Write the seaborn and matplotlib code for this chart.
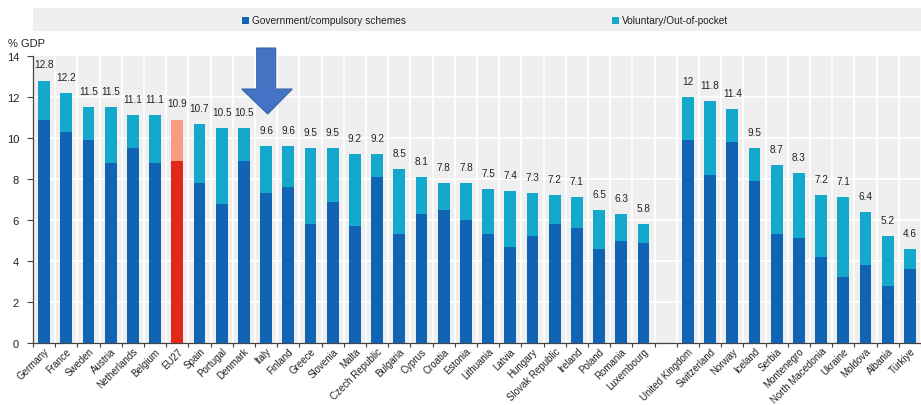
import matplotlib
matplotlib.use("Agg")
import matplotlib.pyplot as plt
from matplotlib.patches import Rectangle, Polygon
import seaborn as sns
import pandas as pd
import numpy as np

countries = ["Germany", "France", "Sweden", "Austria", "Netherlands", "Belgium", "EU27",
             "Spain", "Portugal", "Denmark", "Italy", "Finland", "Greece", "Slovenia",
             "Malta", "Czech Republic", "Bulgaria", "Cyprus", "Croatia", "Estonia",
             "Lithuania", "Latvia", "Hungary", "Slovak Republic", "Ireland", "Poland",
             "Romania", "Luxembourg",
             "United Kingdom", "Switzerland", "Norway", "Iceland", "Serbia", "Montenegro",
             "North Macedonia", "Ukraine", "Moldova", "Albania", "Türkiye"]
total = [12.8, 12.2, 11.5, 11.5, 11.1, 11.1, 10.9, 10.7, 10.5, 10.5, 9.6, 9.6, 9.5, 9.5,
         9.2, 9.2, 8.5, 8.1, 7.8, 7.8, 7.5, 7.4, 7.3, 7.2, 7.1, 6.5, 6.3, 5.8,
         12.0, 11.8, 11.4, 9.5, 8.7, 8.3, 7.2, 7.1, 6.4, 5.2, 4.6]
total_labels = ["12.8", "12.2", "11.5", "11.5", "11.1", "11.1", "10.9", "10.7", "10.5", "10.5",
                "9.6", "9.6", "9.5", "9.5", "9.2", "9.2", "8.5", "8.1", "7.8", "7.8", "7.5",
                "7.4", "7.3", "7.2", "7.1", "6.5", "6.3", "5.8",
                "12", "11.8", "11.4", "9.5", "8.7", "8.3", "7.2", "7.1", "6.4", "5.2", "4.6"]
government = [10.9, 10.3, 9.9, 8.8, 9.5, 8.8, 8.9, 7.8, 6.8, 8.9, 7.3, 7.6, 5.8, 6.9,
              5.7, 8.1, 5.3, 6.3, 6.5, 6.0, 5.3, 4.7, 5.2, 5.8, 5.6, 4.6, 5.0, 4.9,
              9.9, 8.2, 9.8, 7.9, 5.3, 5.1, 4.2, 3.2, 3.8, 2.8, 3.6]
series_names = ["Government/compulsory schemes", "Voluntary/Out-of-pocket"]
y_ticks = [0, 2, 4, 6, 8, 10, 12, 14]

GAP = " "
order = countries[:28] + [GAP] + countries[28:]

df = pd.DataFrame({"country": countries, "total": total, "gov": government})

DARK = "#1064b3"
LIGHT = "#13a8cc"
RED = "#e0291a"
SALMON = "#f89b80"
pal_total = {c: (SALMON if c == "EU27" else LIGHT) for c in countries}
pal_gov = {c: (RED if c == "EU27" else DARK) for c in countries}

plt.rcParams["font.family"] = ["Liberation Sans", "DejaVu Sans"]
TXT = "#222222"

W, H = 921, 406
fig = plt.figure(figsize=(W / 100, H / 100), dpi=100)
ax = fig.add_axes([33 / W, 1 - 344 / H, (W - 33) / W, (344 - 57) / H])
ax.set_facecolor("#efefef")

sns.barplot(data=df, x="country", y="total", hue="country", order=order,
            palette=pal_total, width=0.54, legend=False, ax=ax, saturation=1, zorder=3)
sns.barplot(data=df, x="country", y="gov", hue="country", order=order,
            palette=pal_gov, width=0.54, legend=False, ax=ax, saturation=1, zorder=4)

ax.set_xlim(-0.49, 39.1)
ax.set_ylim(0, 14)
ax.set_yticks(y_ticks)
ax.set_yticklabels([str(t) for t in y_ticks], fontsize=8, color=TXT)
ax.set_xlabel("")
ax.set_ylabel("")

ax.set_xticks(range(len(order)))
ax.set_xticklabels(order, rotation=45, ha="right", rotation_mode="anchor",
                   fontsize=7.0, color=TXT)
ax.tick_params(axis="x", which="major", length=0, pad=2)
ax.set_xticks(np.arange(-0.5, len(order), 1.0), minor=True)
ax.tick_params(axis="x", which="minor", length=3, width=0.8, color="#444444", direction="out")
ax.tick_params(axis="y", length=4, width=0.8, color="#444444", pad=6)

ax.grid(False)
for t in y_ticks[1:-1]:
    ax.axhline(t, color="white", lw=1.3, zorder=1)
for xv in np.arange(0.5, len(order), 1.0):
    ax.axvline(xv, color="white", lw=1.3, zorder=1)

for s in ["top", "right"]:
    ax.spines[s].set_visible(False)
for s in ["left", "bottom"]:
    ax.spines[s].set_color("#444444")
    ax.spines[s].set_linewidth(0.9)

for c, v, lab in zip(countries, total, total_labels):
    i = order.index(c)
    ax.annotate(lab, (i, v), xytext=(0, 8), textcoords="offset points",
                ha="center", va="bottom", fontsize=7.2, color=TXT)

fig.text(8 / W, 1 - 44 / H, "% GDP", fontsize=8, color=TXT, va="center", ha="left")

# legend band
fig.patches.append(Rectangle((33 / W, 1 - 32 / H), (W - 33) / W, 23 / H,
                             transform=fig.transFigure, facecolor="#efefef",
                             edgecolor="none", zorder=0))
for (xm, col, name) in [(242, DARK, series_names[0]), (612, LIGHT, series_names[1])]:
    fig.patches.append(Rectangle((xm / W, 1 - 25 / H), 7 / W, 7 / H,
                                 transform=fig.transFigure, facecolor=col,
                                 edgecolor="none", zorder=2))
    fig.text((xm + 9.5) / W, 1 - 21 / H, name, fontsize=7.3, color=TXT,
             va="center", ha="left")

# blue arrow
pts = [(256.7, 49), (275.7, 49), (275.7, 90), (292.3, 90), (267.7, 115),
       (241.7, 90), (256.7, 90)]
fig.patches.append(Polygon([(x / W, 1 - y / H) for x, y in pts], closed=True,
                           transform=fig.transFigure, facecolor="#4472c4",
                           edgecolor="#3a63ad", lw=0.8, zorder=10))

fig.savefig("out.png", dpi=100)
